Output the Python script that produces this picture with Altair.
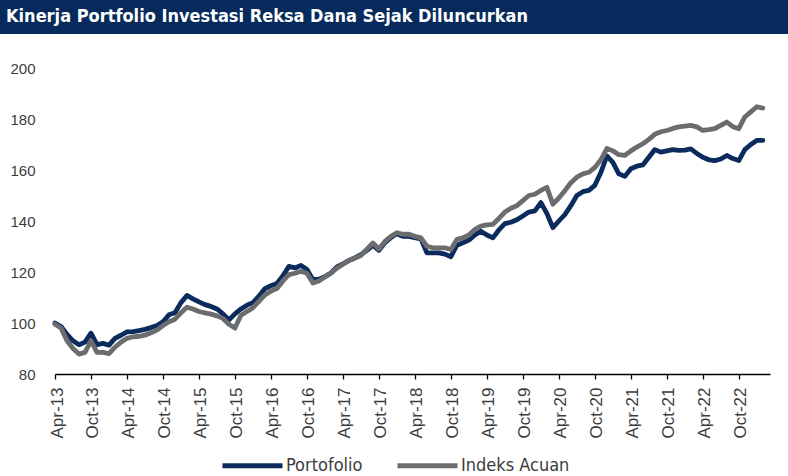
import json
import altair as alt
import pandas as pd

# Monthly values, Apr-13 .. Feb-23 (index 0 = Apr-13)
portofolio = [
    100.0, 98.6, 95.5, 93.0, 91.5, 92.5, 96.0, 91.5, 92.0, 91.3,
    94.0, 95.2, 96.5, 96.6, 97.0, 97.5, 98.2, 99.0, 100.5, 103.2,
    104.0, 108.0, 110.8, 109.5, 108.3, 107.2, 106.5, 105.5, 103.6, 101.2,
    103.6, 105.5, 107.0, 108.0, 110.5, 113.5, 114.6, 115.5, 118.5, 122.2,
    121.6, 122.6, 121.0, 117.0, 117.2, 118.2, 119.6, 122.0, 123.2, 124.5,
    125.5, 126.8, 128.5, 130.5, 128.5, 131.5, 133.5, 135.0, 134.0, 134.0,
    133.5, 133.0, 127.5, 127.5, 127.5, 127.0, 126.0, 130.5, 131.5, 132.5,
    134.5, 136.0, 134.5, 133.4, 136.5, 139.0, 139.5, 140.5, 142.0, 143.5,
    144.0, 147.2, 143.0, 137.4, 140.0, 142.5, 146.0, 150.0, 151.5, 152.0,
    154.0, 159.0, 165.5, 163.0, 158.5, 157.5, 160.5, 161.5, 162.0, 165.0,
    168.0, 167.0, 167.5, 168.0, 167.7, 167.8, 168.3, 166.5, 165.0, 164.0,
    163.7, 164.3, 165.7, 164.5, 163.7, 168.0, 170.0, 171.6, 171.6,
]
indeks_acuan = [
    99.5, 98.0, 93.0, 90.0, 87.8, 88.5, 93.0, 88.5, 88.5, 88.0,
    90.5, 92.5, 94.0, 94.6, 94.8, 95.2, 96.2, 97.2, 99.0, 100.5,
    101.5, 104.0, 106.2, 105.5, 104.5, 104.0, 103.5, 102.8, 101.8, 99.5,
    98.0, 103.0, 104.5, 106.0, 108.5, 111.0, 112.5, 113.5, 116.5, 119.0,
    119.5, 120.3, 119.5, 115.7, 116.5, 118.0, 119.5, 121.5, 123.0, 124.6,
    125.5, 126.5, 129.0, 131.4, 129.0, 132.0, 134.0, 135.4, 134.8, 134.8,
    134.0, 133.4, 130.1, 129.5, 129.5, 129.5, 128.8, 132.8, 133.4, 134.5,
    136.7, 138.0, 138.5, 138.7, 141.0, 143.5, 145.0, 146.0, 148.0, 150.0,
    150.5, 152.0, 153.2, 146.6, 149.0, 151.9, 155.0, 157.2, 158.5, 159.1,
    161.0, 164.0, 168.4, 167.5, 166.0, 165.7, 167.5, 169.0, 170.3, 172.0,
    174.0, 175.0, 175.5, 176.3, 176.9, 177.2, 177.5, 176.9, 175.5, 175.8,
    176.2, 177.5, 178.8, 177.0, 176.2, 180.8, 182.8, 184.8, 184.3,
]
tick_labels = [
    "Apr-13", "Oct-13", "Apr-14", "Oct-14", "Apr-15", "Oct-15", "Apr-16",
    "Oct-16", "Apr-17", "Oct-17", "Apr-18", "Oct-18", "Apr-19", "Oct-19",
    "Apr-20", "Oct-20", "Apr-21", "Oct-21", "Apr-22", "Oct-22",
]
series_names = ["Portofolio", "Indeks Acuan"]
y_ticks = [80, 100, 120, 140, 160, 180, 200]
title_text = "Kinerja Portfolio Investasi Reksa Dana Sejak Diluncurkan"

NAVY = "#0b2b5c"
GRAY = "#6b6c6e"
TXT = "#3c3c3c"
NARROW = "Liberation Sans Narrow, DejaVu Sans Condensed, Arial Narrow, sans-serif"

df_p = pd.DataFrame({"idx": range(len(portofolio)), "value": portofolio, "series": series_names[0]})
df_i = pd.DataFrame({"idx": range(len(indeks_acuan)), "value": indeks_acuan, "series": series_names[1]})

label_expr = json.dumps(tick_labels) + "[round(datum.value / 6)]"

x_enc = alt.X(
    "idx:Q",
    scale=alt.Scale(domain=[0, 119.2], nice=False, zero=False),
    axis=alt.Axis(
        values=[i * 6 for i in range(len(tick_labels))],
        labelExpr=label_expr,
        labelAngle=-90,
        labelFont="Liberation Sans, Arial, sans-serif",
        labelFontSize=17,
        labelColor=TXT,
        labelPadding=8,
        labelOffset=2,
        domainColor="#000000",
        domainWidth=1.3,
        tickColor="#000000",
        tickWidth=1.3,
        tickSize=5,
        grid=False,
        title=None,
        labelOverlap=False,
    ),
)
y_enc = alt.Y(
    "value:Q",
    scale=alt.Scale(domain=[80, 200], nice=False, zero=False),
    axis=alt.Axis(
        values=y_ticks,
        labelFont="Liberation Sans, Arial, sans-serif",
        labelFontSize=15,
        labelColor=TXT,
        labelPadding=20,
        domain=False,
        ticks=False,
        grid=False,
        title=None,
    ),
)
color_enc = alt.Color(
    "series:N",
    scale=alt.Scale(domain=series_names, range=[NAVY, GRAY]),
    legend=alt.Legend(
        title=None,
        orient="none",
        legendX=165,
        legendY=365,
        direction="horizontal",
        symbolType="stroke",
        symbolSize=3600,
        symbolStrokeWidth=5,
        labelFont=NARROW,
        labelFontSize=18,
        labelColor=TXT,
        labelOffset=1,
        columnPadding=24,
    ),
)

line_p = alt.Chart(df_p).mark_line(strokeWidth=4.8, strokeJoin="round", strokeCap="round").encode(
    x=x_enc, y=y_enc, color=color_enc
)
line_i = alt.Chart(df_i).mark_line(strokeWidth=4.8, strokeJoin="round", strokeCap="round").encode(
    x=x_enc, y=y_enc, color=color_enc
)

bar = alt.Chart(pd.DataFrame({"t": [title_text]})).mark_rect(color="#062a5c").encode(
    x=alt.value(-55), x2=alt.value(733), y=alt.value(-68), y2=alt.value(-34)
)
title = alt.Chart(pd.DataFrame({"t": [title_text]})).mark_text(
    align="left", baseline="middle", font=NARROW, fontSize=18, fontWeight="bold", color="white"
).encode(text="t:N", x=alt.value(-49), y=alt.value(-51))

chart = (
    alt.layer(bar, title, line_p, line_i)
    .properties(
        width=715,
        height=306,
        autosize=alt.AutoSizeParams(type="none"),
        padding={"left": 55, "top": 68, "right": 18, "bottom": 102},
        background="white",
    )
    .configure_view(stroke=None)
)

chart.save("out.html", embed_options={"renderer": "svg", "actions": False})
